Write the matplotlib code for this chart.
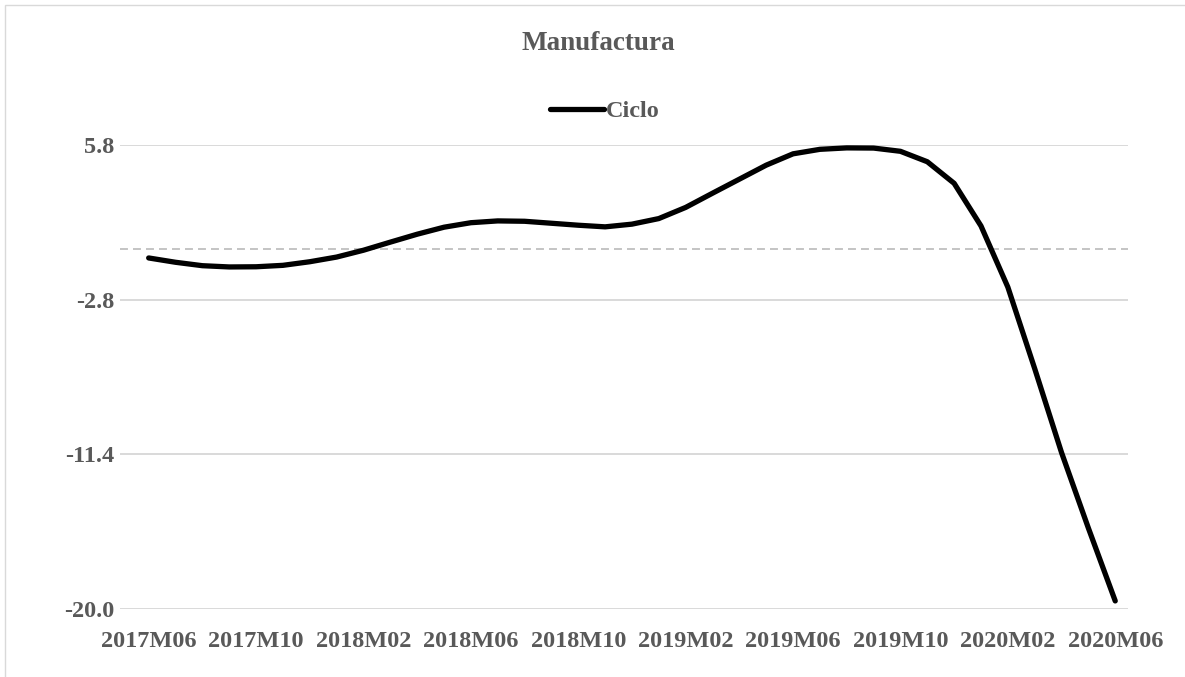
import matplotlib.pyplot as plt
from matplotlib.patches import Rectangle

# ciclo mensual de la manufactura, 2017M06 - 2020M06
periodos = ['2017M06', '2017M07', '2017M08', '2017M09', '2017M10', '2017M11', '2017M12',
            '2018M01', '2018M02', '2018M03', '2018M04', '2018M05', '2018M06', '2018M07',
            '2018M08', '2018M09', '2018M10', '2018M11', '2018M12', '2019M01', '2019M02',
            '2019M03', '2019M04', '2019M05', '2019M06', '2019M07', '2019M08', '2019M09',
            '2019M10', '2019M11', '2019M12', '2020M01', '2020M02', '2020M03', '2020M04',
            '2020M05', '2020M06']
ciclo = [-0.48, -0.72, -0.91, -0.98, -0.97, -0.89, -0.69,
         -0.43, -0.05, 0.40, 0.84, 1.23, 1.48, 1.58,
         1.56, 1.45, 1.34, 1.25, 1.40, 1.71, 2.33,
         3.12, 3.90, 4.68, 5.31, 5.56, 5.64, 5.63,
         5.45, 4.87, 3.67, 1.30, -2.10, -6.63, -11.30,
         -15.50, -19.55]
yticks = [5.8, -2.8, -11.4, -20.0]

gris = '#595959'
fuente = 'Liberation Serif'

fig = plt.figure(figsize=(11.85, 6.77), dpi=100)
ax = fig.add_axes([0.101, 0.1004, 0.851, 0.6854])

# marco del área del gráfico
fig.patches.append(Rectangle((5 / 1185, -0.01), 1.0, 1 - 5 / 677 + 0.01,
                             transform=fig.transFigure, fill=False,
                             edgecolor='#d9d9d9', lw=1.0))

x = list(range(len(periodos)))
ax.axhline(0, color='#bfbfbf', lw=1.3, ls=(0, (4.4, 2.8)), zorder=1)
ax.plot(x, ciclo, color='black', lw=3.8, solid_capstyle='round',
        solid_joinstyle='round', label='Ciclo', zorder=3)

ax.set_ylim(-20.0, 5.8)
ax.set_xlim(-1.08, 36.48)
ax.set_yticks(yticks)
ax.set_yticklabels([f'{v:.1f}' for v in yticks])
ax.yaxis.grid(True, color='#d9d9d9', lw=1.4)
ax.set_axisbelow(True)

ax.set_xticks(x[::4])
ax.set_xticklabels(periodos[::4])

for s in ax.spines.values():
    s.set_visible(False)
ax.tick_params(axis='both', length=0, colors=gris)
ax.tick_params(axis='x', pad=16)
ax.tick_params(axis='y', pad=4)
for lbl in ax.get_xticklabels() + ax.get_yticklabels():
    lbl.set_fontfamily(fuente)
    lbl.set_fontweight('bold')
    lbl.set_fontsize(17.5)

fig.text(598 / 1185, 1 - 44 / 677, 'Manufactura', ha='center', va='center',
         fontsize=19.5, fontweight='bold', family=fuente, color=gris)

leg = fig.legend(loc='center', bbox_to_anchor=(605 / 1185, 1 - 111 / 677),
                 frameon=False, handlelength=2.2, handletextpad=0.1,
                 prop={'family': fuente, 'weight': 'bold', 'size': 17.5})
for t in leg.get_texts():
    t.set_color(gris)

fig.savefig('out.png', dpi=100)
